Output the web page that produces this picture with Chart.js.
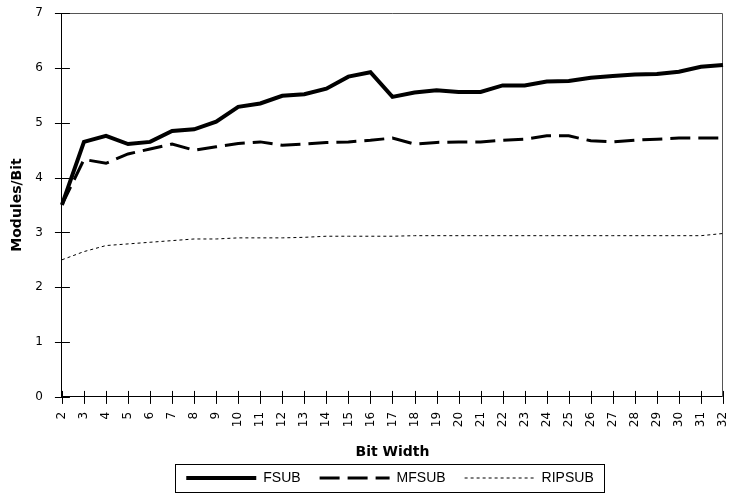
<!DOCTYPE html>
<html>
<head>
<meta charset="utf-8">
<title>Modules/Bit vs Bit Width</title>
<script src="https://cdn.jsdelivr.net/npm/chart.js@4.4.1/dist/chart.umd.min.js"></script>
<style>
  html, body { margin: 0; padding: 0; background: #fff; }
  #wrap { width: 735px; height: 495px; position: relative; }
</style>
</head>
<body>
<div id="wrap"><canvas id="chart"></canvas></div>
<script>
const bitWidths = ["2","3","4","5","6","7","8","9","10","11","12","13","14","15","16","17",
  "18","19","20","21","22","23","24","25","26","27","28","29","30","31","32"];

const fsub = [3.50, 4.65, 4.76, 4.61, 4.65, 4.85, 4.88, 5.02, 5.29, 5.35, 5.49, 5.52, 5.62, 5.84, 5.92, 5.47,
  5.55, 5.59, 5.56, 5.56, 5.68, 5.68, 5.75, 5.76, 5.82, 5.85, 5.88, 5.89, 5.93, 6.02, 6.05];

const mfsub = [3.50, 4.33, 4.26, 4.43, 4.52, 4.61, 4.50, 4.56, 4.62, 4.65, 4.59, 4.61, 4.64, 4.65, 4.68, 4.72,
  4.61, 4.64, 4.65, 4.65, 4.68, 4.70, 4.76, 4.76, 4.67, 4.65, 4.68, 4.70, 4.72, 4.72, 4.72];

const ripsub = [2.50, 2.65, 2.76, 2.79, 2.82, 2.85, 2.88, 2.88, 2.90, 2.90, 2.90, 2.91, 2.93, 2.93, 2.93, 2.93,
  2.94, 2.94, 2.94, 2.94, 2.94, 2.94, 2.94, 2.94, 2.94, 2.94, 2.94, 2.94, 2.94, 2.94, 2.98];

const yTicks = [0, 1, 2, 3, 4, 5, 6, 7];

const tickFont = { family: "'DejaVu Sans', sans-serif", size: 12, lineHeight: 1 };
const titleFont = { family: "'DejaVu Sans', sans-serif", size: 14, weight: "bold" };

// frame on top/right, ticks that cross the axis lines, box round the legend
const framePlugin = {
  id: "frame",
  afterLayout(chart) {
    // nudge the legend up under the axis title and centre it on the plot
    const lg = chart.legend;
    if (!lg) return;
    lg.top -= 9; lg.bottom -= 9;
    lg.left += 24; lg.right += 24;
  },
  beforeDatasetsDraw(chart) {
    const { ctx, chartArea: a, scales } = chart;
    ctx.save();
    ctx.strokeStyle = "#555";
    ctx.lineWidth = 1;
    ctx.beginPath();
    ctx.moveTo(a.left, a.top + 0.5);
    ctx.lineTo(a.right - 0.5, a.top + 0.5);
    ctx.lineTo(a.right - 0.5, a.bottom);
    ctx.stroke();

    ctx.strokeStyle = "#000";
    ctx.beginPath();
    const x = scales.x, y = scales.y;
    for (let i = 0; i < x.ticks.length; i++) {
      const px = Math.round(x.getPixelForTick(i)) + 0.5;
      ctx.moveTo(px, a.bottom - 6);
      ctx.lineTo(px, a.bottom + 7);
    }
    for (let i = 0; i < y.ticks.length; i++) {
      const py = Math.round(y.getPixelForTick(i)) + 0.5;
      ctx.moveTo(a.left - 7, py);
      ctx.lineTo(a.left + 8, py);
    }
    ctx.stroke();
    ctx.restore();
  },
  afterDraw(chart) {
    const boxes = chart.legend && chart.legend.legendHitBoxes;
    if (!boxes || !boxes.length) return;
    const { ctx } = chart;
    let l = Infinity, r = -Infinity, t = Infinity, b = -Infinity;
    boxes.forEach(h => {
      l = Math.min(l, h.left); r = Math.max(r, h.left + h.width);
      t = Math.min(t, h.top); b = Math.max(b, h.top + h.height);
    });
    ctx.save();
    ctx.strokeStyle = "#000";
    ctx.lineWidth = 1;
    ctx.strokeRect(Math.round(l - 11) + 0.5, Math.round(t - 7) + 0.5, Math.round(r - l + 22), Math.round(b - t + 14));
    ctx.restore();
  }
};

new Chart(document.getElementById("chart"), {
  type: "line",
  data: {
    labels: bitWidths,
    datasets: [
      { label: "FSUB", data: fsub, borderColor: "#000", borderWidth: 4, pointRadius: 0, tension: 0, fill: false },
      { label: "MFSUB", data: mfsub, borderColor: "#000", borderWidth: 3, borderDash: [20, 8], pointRadius: 0, tension: 0, fill: false },
      { label: "RIPSUB", data: ripsub, borderColor: "#000", borderWidth: 1, borderDash: [3, 3], pointRadius: 0, tension: 0, fill: false }
    ]
  },
  options: {
    responsive: true,
    maintainAspectRatio: false,
    animation: false,
    layout: { padding: { left: 9, right: 12, top: 0, bottom: 0 } },
    plugins: {
      tooltip: { enabled: false },
      legend: {
        position: "bottom",
        maxHeight: 34,
        labels: {
          usePointStyle: true,
          pointStyle: "line",
          pointStyleWidth: 70,
          boxHeight: 12,
          padding: 19,
          color: "#000",
          font: { family: "'Liberation Sans', Arial, sans-serif", size: 14 },
          generateLabels(chart) {
            const items = Chart.defaults.plugins.legend.labels.generateLabels(chart);
            items.forEach((it, i) => {
              const ds = chart.data.datasets[i];
              it.lineDash = ds.borderDash || [];
              it.lineWidth = ds.borderWidth;
              it.strokeStyle = ds.borderColor;
            });
            return items;
          }
        }
      }
    },
    scales: {
      x: {
        offset: false,
        grid: { display: true, drawOnChartArea: false, drawTicks: true, tickLength: 15, tickColor: "rgba(0,0,0,0)" },
        border: { display: true, color: "#000", width: 1 },
        ticks: { color: "#000", font: tickFont, maxRotation: 90, minRotation: 90, autoSkip: false, padding: 0 },
        title: { display: true, text: "Bit Width", color: "#000", font: titleFont, padding: { top: 17, bottom: 0 } }
      },
      y: {
        min: 0,
        max: 7,
        afterBuildTicks(scale) { scale.ticks = yTicks.map(v => ({ value: v })); },
        grid: { display: true, drawOnChartArea: false, drawTicks: true, tickLength: 12, tickColor: "rgba(0,0,0,0)" },
        border: { display: true, color: "#000", width: 1 },
        ticks: { color: "#000", font: tickFont, padding: 7 },
        title: { display: true, text: "Modules/Bit", color: "#000", font: titleFont, padding: { top: 0, bottom: 2.5 } }
      }
    }
  },
  plugins: [framePlugin]
});
</script>
</body>
</html>
